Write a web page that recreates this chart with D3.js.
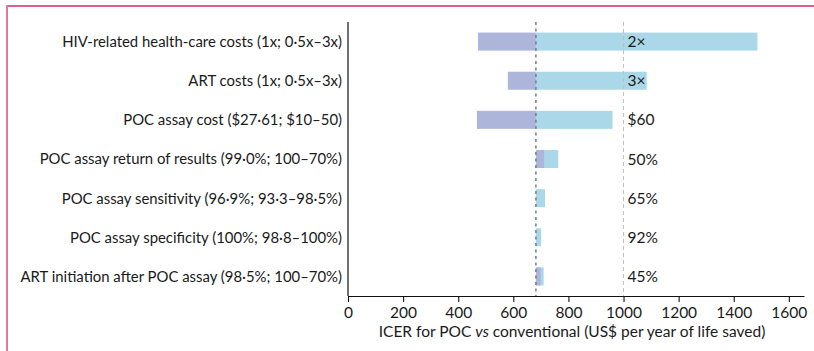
<!DOCTYPE html>
<html>
<head>
<meta charset="utf-8">
<script src="https://cdn.jsdelivr.net/npm/d3@7"></script>
<style>
  html, body { margin: 0; padding: 0; background: #fff; }
  svg { display: block; font-family: Lato, "Open Sans", sans-serif; }
</style>
</head>
<body>
<svg id="chart" width="814" height="351"></svg>
<script>
// ---- data ----
const categories = [
  "HIV-related health-care costs (1x; 0·5x–3x)",
  "ART costs (1x; 0·5x–3x)",
  "POC assay cost ($27·61; $10–50)",
  "POC assay return of results (99·0%; 100–70%)",
  "POC assay sensitivity (96·9%; 93·3–98·5%)",
  "POC assay specificity (100%; 98·8–100%)",
  "ART initiation after POC assay (98·5%; 100–70%)"
];
const lowValues  = [472, 580, 468, 712, 682, 682, 699];   // purple bars
const highValues = [1486, 1084, 960, 763, 715, 701, 710]; // light blue bars
const thresholdLabels = ["2×", "3×", "$60", "50%", "65%", "92%", "45%"];
const baseICER = 682;
const threshold = 1000;
const tickValues = [0, 200, 400, 600, 800, 1000, 1200, 1400, 1600];

// ---- layout ----
const svg = d3.select("#chart");
const x0 = 348, x1 = 804, yTop = 22, yBot = 296;

const x = d3.scaleLinear().domain([0, 1655]).range([x0, x1]);
const y = d3.scaleBand().domain(categories).range([yTop, yBot]).paddingInner(0.54).paddingOuter(0.27);

// frame
svg.append("line").attr("x1", 7).attr("x2", 814).attr("y1", 6).attr("y2", 6)
  .attr("stroke", "#d42d61").attr("stroke-width", 1.6);
svg.append("line").attr("x1", 7).attr("x2", 7).attr("y1", 5.2).attr("y2", 351)
  .attr("stroke", "#e07a9b").attr("stroke-width", 2);

const rows = categories.map((c, i) => ({c, lo: lowValues[i], hi: highValues[i], lab: thresholdLabels[i]}));

// high bars (light blue)
svg.append("g").selectAll("rect").data(rows).join("rect")
  .attr("x", d => x(Math.min(baseICER, d.hi)))
  .attr("width", d => Math.abs(x(d.hi) - x(baseICER)))
  .attr("y", d => y(d.c))
  .attr("height", y.bandwidth())
  .attr("fill", "#aad8e8");

// low bars (purple)
svg.append("g").selectAll("rect").data(rows).join("rect")
  .attr("x", d => x(Math.min(baseICER, d.lo)))
  .attr("width", d => Math.abs(x(d.lo) - x(baseICER)))
  .attr("y", d => y(d.c))
  .attr("height", y.bandwidth())
  .attr("fill", "#adb5da");

// threshold dashed line
svg.append("line").attr("x1", x(threshold)).attr("x2", x(threshold))
  .attr("y1", yTop).attr("y2", yBot)
  .attr("stroke", "#b9c1c8").attr("stroke-width", 1).attr("stroke-dasharray", "4,3");

// base ICER dashed line
svg.append("line").attr("x1", x(baseICER)).attr("x2", x(baseICER))
  .attr("y1", yTop).attr("y2", yBot)
  .attr("stroke", "#6d7f8d").attr("stroke-width", 1.5).attr("stroke-dasharray", "3,3.5");

// threshold labels
svg.append("g").selectAll("text").data(rows).join("text")
  .attr("x", x(threshold) + 4)
  .attr("y", d => y(d.c) + y.bandwidth() / 2)
  .attr("dy", "0.36em")
  .attr("font-size", 15.5)
  .attr("fill", "#1a1a1a")
  .text(d => d.lab);

// category labels
svg.append("g").selectAll("text").data(rows).join("text")
  .attr("x", x0 - 6)
  .attr("y", d => y(d.c) + y.bandwidth() / 2)
  .attr("dy", "0.36em")
  .attr("text-anchor", "end")
  .attr("font-size", 14.9)
  .attr("fill", "#1a1a1a")
  .text(d => d.c);

// y axis line
svg.append("line").attr("x1", x0).attr("x2", x0).attr("y1", yTop).attr("y2", yBot)
  .attr("stroke", "#111").attr("stroke-width", 1.2);

// x axis
const xAxis = d3.axisBottom(x).tickValues(tickValues).tickSize(6).tickSizeOuter(0).tickFormat(d3.format("d"));
const gx = svg.append("g").attr("transform", `translate(0,${yBot})`).call(xAxis);
gx.select(".domain").attr("stroke", "#111").attr("stroke-width", 1.2);
gx.selectAll(".tick line").attr("stroke", "#111").attr("stroke-width", 1.1);
gx.selectAll(".tick text").attr("font-size", 15.5).attr("font-family", "Lato, sans-serif")
  .attr("fill", "#1a1a1a").attr("dy", "0.85em");

// x axis title
const title = svg.append("text")
  .attr("x", (x(0) + x(1655)) / 2 - 4)
  .attr("y", 337)
  .attr("text-anchor", "middle")
  .attr("font-size", 15.5)
  .attr("fill", "#1a1a1a");
title.append("tspan").text("ICER for POC ");
title.append("tspan").attr("font-style", "italic").text("vs");
title.append("tspan").text(" conventional (US$ per year of life saved)");
</script>
</body>
</html>
